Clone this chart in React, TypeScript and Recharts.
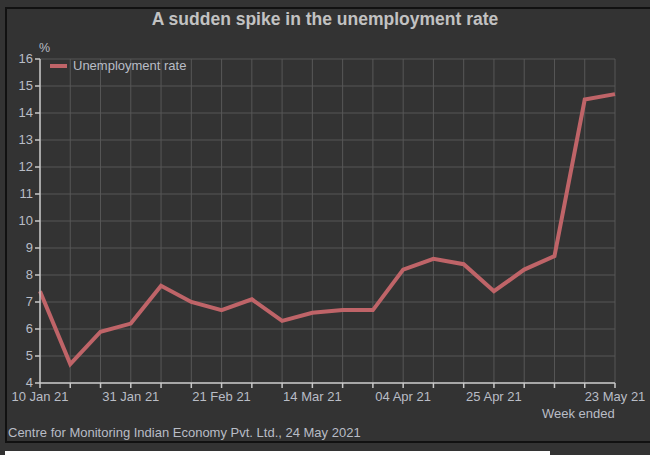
import React from 'react';
import { LineChart, Line, XAxis, YAxis, CartesianGrid } from 'recharts';

const weeks = [
  '10 Jan 21', '17 Jan 21', '24 Jan 21', '31 Jan 21', '07 Feb 21', '14 Feb 21', '21 Feb 21',
  '28 Feb 21', '07 Mar 21', '14 Mar 21', '21 Mar 21', '28 Mar 21', '04 Apr 21', '11 Apr 21',
  '18 Apr 21', '25 Apr 21', '02 May 21', '09 May 21', '16 May 21', '23 May 21',
];
const unemploymentRate = [
  7.4, 4.7, 5.9, 6.2, 7.6, 7.0, 6.7, 7.1, 6.3, 6.6, 6.7, 6.7, 8.2, 8.6, 8.4, 7.4, 8.2, 8.7, 14.5, 14.7,
];
const shownLabels = ['10 Jan 21', '31 Jan 21', '21 Feb 21', '14 Mar 21', '04 Apr 21', '25 Apr 21', '23 May 21'];
const yTicks = [4, 5, 6, 7, 8, 9, 10, 11, 12, 13, 14, 15, 16];
const seriesName = 'Unemployment rate';

const data = weeks.map((w, i) => ({ week: w, rate: unemploymentRate[i] }));

const FONT = 'Arial, "Liberation Sans", sans-serif';
const LINE = '#bf6468';
const TEXT = '#b9bdc6';
const GRID = '#575757';
const AXIS = '#c8c8c8';

export default function App() {
  return (
    <div style={{ position: 'absolute', left: 0, top: 0, width: 650, height: 455, background: '#333333', overflow: 'hidden' }}>
      <div style={{ position: 'absolute', left: 5, top: 7, width: 660, height: 432, border: '2px solid #111', borderRight: 'none' }} />
      <div style={{ position: 'absolute', left: 5, top: 451, width: 545, height: 4, background: '#fff' }} />
      <div style={{ position: 'absolute', left: 0, top: 9, width: 650, textAlign: 'center', fontFamily: FONT, fontSize: 17.5, fontWeight: 'bold', color: '#c2c2c2' }}>
        A sudden spike in the unemployment rate
      </div>
      <div style={{ position: 'absolute', left: 39, top: 41, fontFamily: FONT, fontSize: 12.5, color: TEXT }}>%</div>
      <div style={{ position: 'absolute', left: 542, top: 406, fontFamily: FONT, fontSize: 13, color: TEXT }}>Week ended</div>
      <div style={{ position: 'absolute', left: 8, top: 425, fontFamily: FONT, fontSize: 13, color: TEXT }}>
        Centre for Monitoring Indian Economy Pvt. Ltd., 24 May 2021
      </div>
      <div style={{ position: 'absolute', left: 0, top: 0 }}>
        <LineChart width={650} height={455} data={data} margin={{ top: 59, right: 35, bottom: 42, left: 10 }}>
          <CartesianGrid stroke={GRID} strokeWidth={1} />
          <XAxis
            dataKey="week"
            interval={0}
            height={30}
            stroke={AXIS}
            strokeWidth={1.5}
            tickSize={5}
            tickFormatter={(v: string) => (shownLabels.includes(v) ? v : '')}
            tick={{ fill: TEXT, fontSize: 13, fontFamily: FONT, dy: 2 }}
          />
          <YAxis
            domain={[4, 16]}
            ticks={yTicks}
            interval={0}
            width={30}
            stroke={AXIS}
            strokeWidth={1.5}
            tickSize={5}
            tick={{ fill: TEXT, fontSize: 13, fontFamily: FONT, dy: -1 }}
          />
          <Line
            type="linear"
            dataKey="rate"
            name={seriesName}
            stroke={LINE}
            strokeWidth={4}
            dot={false}
            activeDot={false}
            isAnimationActive={false}
          />
        </LineChart>
      </div>
      <div style={{ position: 'absolute', left: 50, top: 58, display: 'flex', alignItems: 'center', fontFamily: FONT, fontSize: 13, color: TEXT }}>
        <div style={{ width: 17, height: 4, background: LINE, marginRight: 6 }} />
        <span>{seriesName}</span>
      </div>
    </div>
  );
}
